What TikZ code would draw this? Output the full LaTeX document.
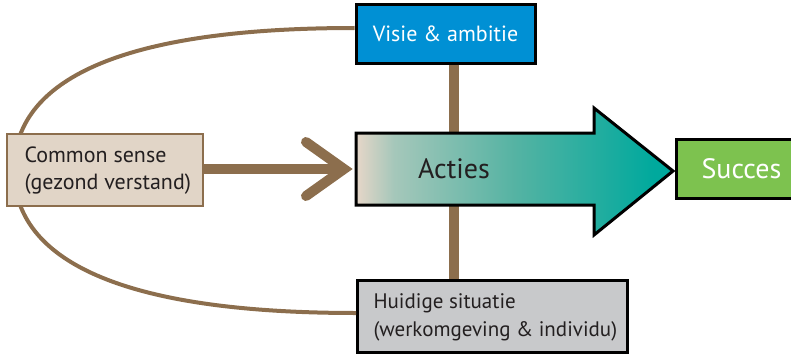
\documentclass[tikz,border=0pt]{standalone}
\usepackage{fontspec}
\setmainfont{PT Sans}
\usetikzlibrary{calc}
\definecolor{brownc}{HTML}{8C6E4D}
\definecolor{beigec}{HTML}{E1D5C7}
\definecolor{bluec}{HTML}{0090D4}
\definecolor{greenc}{HTML}{7DC24F}
\definecolor{greyc}{HTML}{C8C9CB}
\definecolor{tealc}{HTML}{00A99D}
\definecolor{midc}{HTML}{55B3A3}
\definecolor{lightc}{HTML}{A5C7BA}
\definecolor{textc}{HTML}{231F20}
\pgfdeclarehorizontalshading{actiesshade}{100bp}{color(0bp)=(beigec); color(25bp)=(beigec); color(25.5bp)=(beigec); color(31bp)=(lightc); color(50bp)=(midc); color(72bp)=(tealc); color(100bp)=(tealc)}
\tikzset{
  box/.style={draw=black, line width=3pt, rectangle, inner sep=0pt, font=\fontsize{22}{26}\selectfont, text=textc},
  conn/.style={draw=brownc, line width=10pt},
  loopline/.style={draw=brownc, line width=4pt},
}
\begin{document}
\begin{tikzpicture}[x=1pt,y=-1pt]
\useasboundingbox (0,0) rectangle (791,353);
\coordinate (lft) at (14,170);
% boxes
\node[box, fill=bluec, text=white, minimum width=179pt, minimum height=58pt] (visie) at (445.5,34) {Visie \& ambitie};
\node[box, fill=greyc, minimum width=270pt, minimum height=72pt, anchor=north west] (huidige) at (356,279) {};
\node[anchor=west, align=left, font=\fontsize{21}{28}\selectfont, text=textc] (huidigetext) at (370,317) {Huidige situatie\\(werkomgeving \& individu)};
% loop (behind)
\draw[loopline] (visie.west |- 0,28) .. controls (120,28) and (14,80) .. (lft) .. controls (14,260) and (120,313) .. (huidige.west |- 0,313);
% Common sense box
\node[box, draw=brownc, line width=2pt, fill=beigec, minimum width=196pt, minimum height=72pt, anchor=north west] (common) at (6,133) {};
\node[anchor=west, align=left, font=\fontsize{22}{27}\selectfont, text=textc] (commontext) at (21,171) {Common sense\\(gezond verstand)};
% vertical connectors
\coordinate (cx) at (454,170);
\draw[conn] (cx |- visie.south) -- (cx |- 0,140);
\draw[conn] (cx |- 0,200) -- (cx |- huidige.north);
% Acties arrow
\draw[line width=3pt, line join=miter, shading=actiesshade] (356,133) -- (594,133) -- (594,108) -- (673,171) -- (594,235) -- (594,205) -- (356,205) -- cycle;
\node[font=\fontsize{28}{32}\selectfont, text=textc] (acties) at (454,169) {Acties};
\coordinate (actiesw) at (353,169);
% Common sense arrow
\draw[conn] (common.east |- actiesw) -- ($(actiesw)+(-8,0)$);
\draw[draw=brownc, line width=10pt, line cap=round, line join=miter] (306,142) -- ($(actiesw)+(-9,0)$) -- (306,196);
% Succes
\begin{scope}
\clip (0,0) rectangle (791,353);
\node[box, fill=greenc, text=white, minimum width=130pt, minimum height=59pt, anchor=north west, font=\fontsize{28}{32}\selectfont, text width=116pt, align=center] (succes) at (675,138) {Succes};
\end{scope}
\end{tikzpicture}
\end{document}
